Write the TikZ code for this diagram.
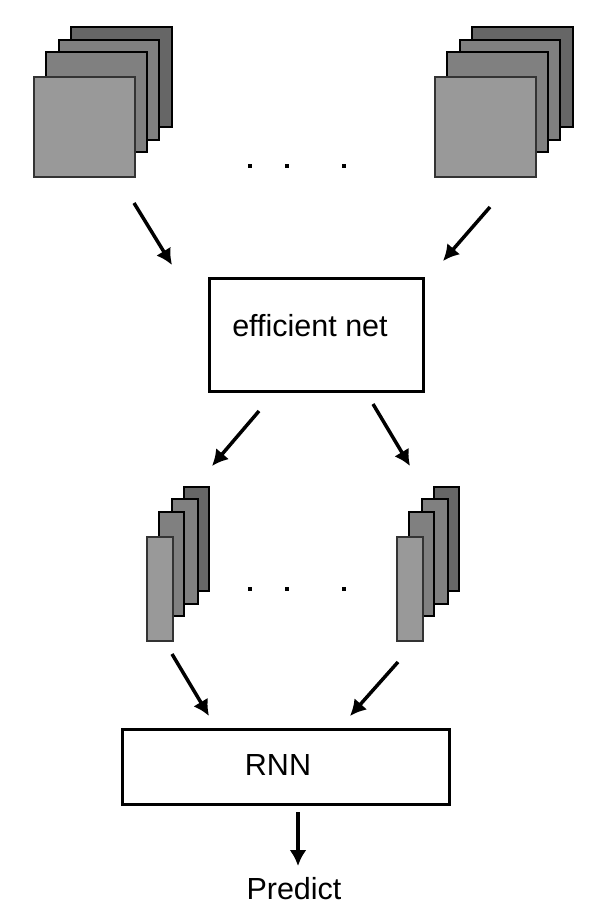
\documentclass[tikz,border=0pt]{standalone}
\usepackage{fontspec}
\setmainfont{Liberation Sans}
\usetikzlibrary{arrows.meta}
\definecolor{sheetback}{HTML}{666666}
\definecolor{sheetmid}{HTML}{808080}
\definecolor{sheetfront}{HTML}{999999}
\definecolor{sheetedge}{HTML}{333333}
\tikzset{
  netbox/.style={draw, line width=3pt},
  arr/.style={-{Latex[length=16pt,width=17pt]}, line width=3.5pt},
  sheet/.style={draw=black, line width=1.6pt},
  labeltext/.style={font=\fontsize{30.5}{35}\selectfont}
}

\begin{document}
\begin{tikzpicture}[x=1pt,y=-1pt]
        \useasboundingbox (0,0) rectangle (597,923);
        %% frame stacks on top
        \foreach \dx in {0,401} {
          \filldraw[sheet, fill=sheetback] (71+\dx,27) rectangle ++(101,100);
          \filldraw[sheet, fill=sheetmid] (59+\dx,40) rectangle ++(100,100);
          \filldraw[sheet, fill=sheetmid] (46+\dx,52) rectangle ++(101,100);
          \filldraw[sheet, draw=sheetedge, fill=sheetfront] (34+\dx,77) rectangle ++(101,100);
        }
        %% feature stacks
        \foreach \dx in {0,250} {
          \filldraw[sheet, fill=sheetback] (184+\dx,487) rectangle ++(25,104);
          \filldraw[sheet, fill=sheetmid] (172+\dx,499) rectangle ++(26,105);
          \filldraw[sheet, fill=sheetmid] (159+\dx,512) rectangle ++(25,104);
          \filldraw[sheet, draw=sheetedge, fill=sheetfront] (147+\dx,537) rectangle ++(26,104);
        }
        %% dots
        \foreach \y in {166,589}
          \foreach \x in {250,287,344}
            \fill (\x-2,\y-2) rectangle ++(4,4);

        \node[netbox, minimum width=214pt, minimum height=113pt] (effnet) at (316,334.5) {};
        \node[labeltext] (efftext) at (310,326) {efficient net};
        \node[netbox, minimum width=327pt, minimum height=75pt] (rnn) at (285.5,766.5) {};
        \node[labeltext] (rnntext) at (278,765) {RNN};
        \node[labeltext] (predict) at (294,889) {Predict};

        \coordinate (inL) at (134,203);   \coordinate (inLtip) at (172,265);
        \coordinate (inR) at (490,207);   \coordinate (inRtip) at (443,261);
        \coordinate (outL) at (259,411);  \coordinate (outLtip) at (212,466);
        \coordinate (outR) at (373,404);  \coordinate (outRtip) at (410,466);
        \coordinate (seqL) at (172,654);  \coordinate (seqLtip) at (209,716);
        \coordinate (seqR) at (398,662);  \coordinate (seqRtip) at (350,716);
        \coordinate (res) at (298,812);   \coordinate (restip) at (298,866);
        \draw[arr] (inL) -- (inLtip);
        \draw[arr] (inR) -- (inRtip);
        \draw[arr] (outL) -- (outLtip);
        \draw[arr] (outR) -- (outRtip);
        \draw[arr] (seqL) -- (seqLtip);
        \draw[arr] (seqR) -- (seqRtip);
        \draw[arr] (res) -- (restip);
      \end{tikzpicture}
\end{document}
